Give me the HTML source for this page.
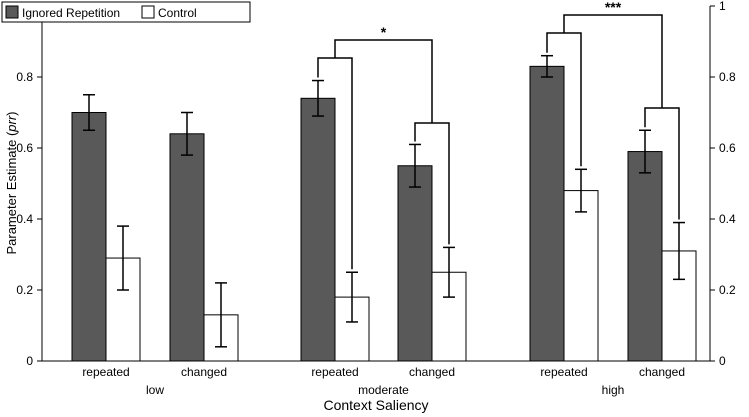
<!DOCTYPE html>
<html><head><meta charset="utf-8"><style>
body{margin:0;background:#fff}
svg{display:block;font-family:"Liberation Sans",Arial,sans-serif}
</style></head><body>
<svg id="c" width="749" height="417"></svg>
<script>
const groups=["low","moderate","high"];
const conditions=["repeated","changed"];
const ignoredVals=[0.70,0.64,0.74,0.55,0.83,0.59];
const ignoredErr=[0.05,0.06,0.05,0.06,0.03,0.06];
const controlVals=[0.29,0.13,0.18,0.25,0.48,0.31];
const controlErr=[0.09,0.09,0.07,0.07,0.06,0.08];
const yTicks=["0","0.2","0.4","0.6","0.8","1"];
const S="http://www.w3.org/2000/svg",svg=document.getElementById('c');
function mk(t,a,p){const e=document.createElementNS(S,t);for(const k in a)e.setAttribute(k,a[k]);(p||svg).appendChild(e);return e;}
const y0=361,yH=355,L=42,R=710;
const y=v=>y0-v*yH;
const slotX=[72,170,301,398,530,628];const bw=34;
let e=mk('line',{x1:L,y1:6,x2:L,y2:y0,stroke:'#000'});
e=mk('line',{x1:R,y1:6,x2:R,y2:y0,stroke:'#000'});
e=mk('line',{x1:L,y1:y0,x2:R,y2:y0,stroke:'#000'});
yTicks.forEach((t,i)=>{const v=parseFloat(t),yy=y(v);
 mk('line',{x1:L-5,y1:yy,x2:L,y2:yy,stroke:'#000'});mk('line',{x1:R,y1:yy,x2:R+5,y2:yy,stroke:'#000'});
 e=mk('text',{x:L-9,y:yy+4,'text-anchor':'end','font-size':12});e.textContent=t;
 e=mk('text',{x:R+9,y:yy+4,'font-size':12});e.textContent=t;
});
function bar(x,v,er,fill,name){
 e=mk('rect',{x:x,y:y(v),width:bw,height:y0-y(v),fill:fill,stroke:'#000'});
 const cx=x+bw/2;mk('line',{x1:cx,y1:y(v+er),x2:cx,y2:y(v-er),stroke:'#000','stroke-width':1.5});
 mk('line',{x1:cx-6,y1:y(v+er),x2:cx+6,y2:y(v+er),stroke:'#000','stroke-width':1.5});
 mk('line',{x1:cx-6,y1:y(v-er),x2:cx+6,y2:y(v-er),stroke:'#000','stroke-width':1.5});
}
slotX.forEach((x,i)=>{
 bar(x,ignoredVals[i],ignoredErr[i],'#595959','bar-ignored-'+i);
 bar(x+bw,controlVals[i],controlErr[i],'#fff','bar-control-'+i);
 e=mk('text',{x:x+bw,y:y0+15,'text-anchor':'middle','font-size':12});e.textContent=conditions[i%2];
});
groups.forEach((g,i)=>{const cx=(slotX[2*i]+slotX[2*i+1])/2+bw;
 e=mk('text',{x:cx,y:y0+33,'text-anchor':'middle','font-size':12});e.textContent=g;});
e=mk('text',{x:376,y:410,'text-anchor':'middle','font-size':14});e.textContent='Context Saliency';
e=mk('text',{transform:'translate(16,183) rotate(-90)','text-anchor':'middle','font-size':13});e.innerHTML='Parameter Estimate (<tspan font-style="italic">prr</tspan>)';
function br(i,top){const a=slotX[i]+bw/2,b=a+bw;
 const ya=y(ignoredVals[i]+ignoredErr[i])-3,yb=y(controlVals[i]+controlErr[i])-3;
 mk('path',{d:`M${a} ${ya}V${top}H${b}V${yb}`,fill:'none',stroke:'#000','stroke-width':1.5});return (a+b)/2;}
function outer(i,j,t1,t2,top,star){const m1=br(i,t1),m2=br(j,t2);
 mk('path',{d:`M${m1} ${t1}V${top}H${m2}V${t2}`,fill:'none',stroke:'#000','stroke-width':1.5});
 e=mk('text',{x:(m1+m2)/2,y:top-3,'text-anchor':'middle','font-size':14,'font-weight':'bold'});e.textContent=star;}
outer(2,3,58,123,40,'*');
outer(4,5,33,108,15,'***');
const lg=mk('g',{});
mk('rect',{x:2,y:2,width:248,height:20,fill:'#fff',stroke:'#000'},lg);
mk('rect',{x:6,y:6,width:12,height:12,fill:'#595959',stroke:'#000'},lg);
e=mk('text',{x:22,y:17,'font-size':12},lg);e.textContent='Ignored Repetition';
mk('rect',{x:142,y:6,width:12,height:12,fill:'#fff',stroke:'#000'},lg);
e=mk('text',{x:158,y:17,'font-size':12},lg);e.textContent='Control';
</script>
</body></html>
